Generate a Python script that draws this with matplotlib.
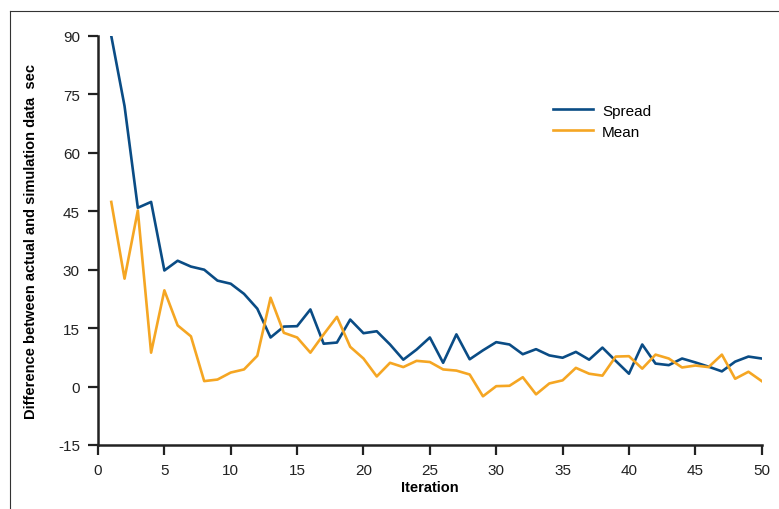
import matplotlib.pyplot as plt
from matplotlib.lines import Line2D

plt.rcParams['font.family'] = ['Liberation Sans', 'DejaVu Sans']
plt.rcParams['axes.unicode_minus'] = False

iterations = list(range(1, 51))
spread = [90, 72, 45.9, 47.4, 29.8, 32.3, 30.8, 30, 27.2, 26.4,
          23.8, 20, 12.6, 15.4, 15.5, 19.8, 11, 11.3, 17.2, 13.7,
          14.2, 10.8, 6.9, 9.5, 12.6, 6.1, 13.4, 7, 9.3, 11.4,
          10.8, 8.3, 9.6, 8, 7.4, 8.9, 6.9, 10, 6.6, 3.3,
          10.8, 5.9, 5.5, 7.2, 6.2, 5.1, 3.9, 6.4, 7.7, 7.2]
mean = [47.4, 27.7, 45.2, 8.7, 24.7, 15.7, 12.9, 1.4, 1.8, 3.6,
        4.4, 7.9, 22.8, 13.8, 12.6, 8.7, 13.4, 17.9, 10.2, 7.2,
        2.6, 6.1, 5, 6.6, 6.3, 4.4, 4.1, 3.1, -2.5, 0.1,
        0.2, 2.4, -2, 0.8, 1.6, 4.8, 3.3, 2.8, 7.7, 7.8,
        4.6, 8.2, 7.2, 4.9, 5.4, 5, 8.2, 2, 3.8, 1.4]
xticks = list(range(0, 51, 5))
yticks = list(range(-15, 91, 15))

fig = plt.figure(figsize=(7.79, 5.10), dpi=100)
ax = fig.add_axes([0.1258, 0.1255, 0.852, 0.802])

ax.plot(iterations, spread, color='#0a4c85', lw=1.9, label='Spread')
ax.plot(iterations, mean, color='#f5a623', lw=1.9, label='Mean')

ax.set_xlim(0, 50)
ax.set_ylim(-15, 90)
ax.set_xticks(xticks)
ax.set_yticks(yticks)
for s in ['top', 'right']:
    ax.spines[s].set_visible(False)
for s in ['left', 'bottom']:
    ax.spines[s].set_linewidth(1.8)
    ax.spines[s].set_color('#222222')
ax.tick_params(direction='out', length=7, width=1.6, color='#222222',
               labelsize=11, labelcolor='#222222', pad=6)

ax.set_xlabel('Iteration', fontsize=10.5, fontweight='bold', labelpad=2)
ax.set_ylabel('Difference between actual and simulation data  sec',
              fontsize=10.5, fontweight='bold', labelpad=14)

ax.legend(loc='upper left', bbox_to_anchor=(0.665, 0.868), frameon=False,
          fontsize=11, handlelength=2.6, handletextpad=0.6, labelspacing=0.45)

# thin frame around the figure (left and top edges)
fig.add_artist(Line2D([0.013, 0.013], [0, 0.976], color='#333333', lw=0.8))
fig.add_artist(Line2D([0.013, 1.0], [0.976, 0.976], color='#333333', lw=0.8))

fig.savefig('out.png', dpi=100)
